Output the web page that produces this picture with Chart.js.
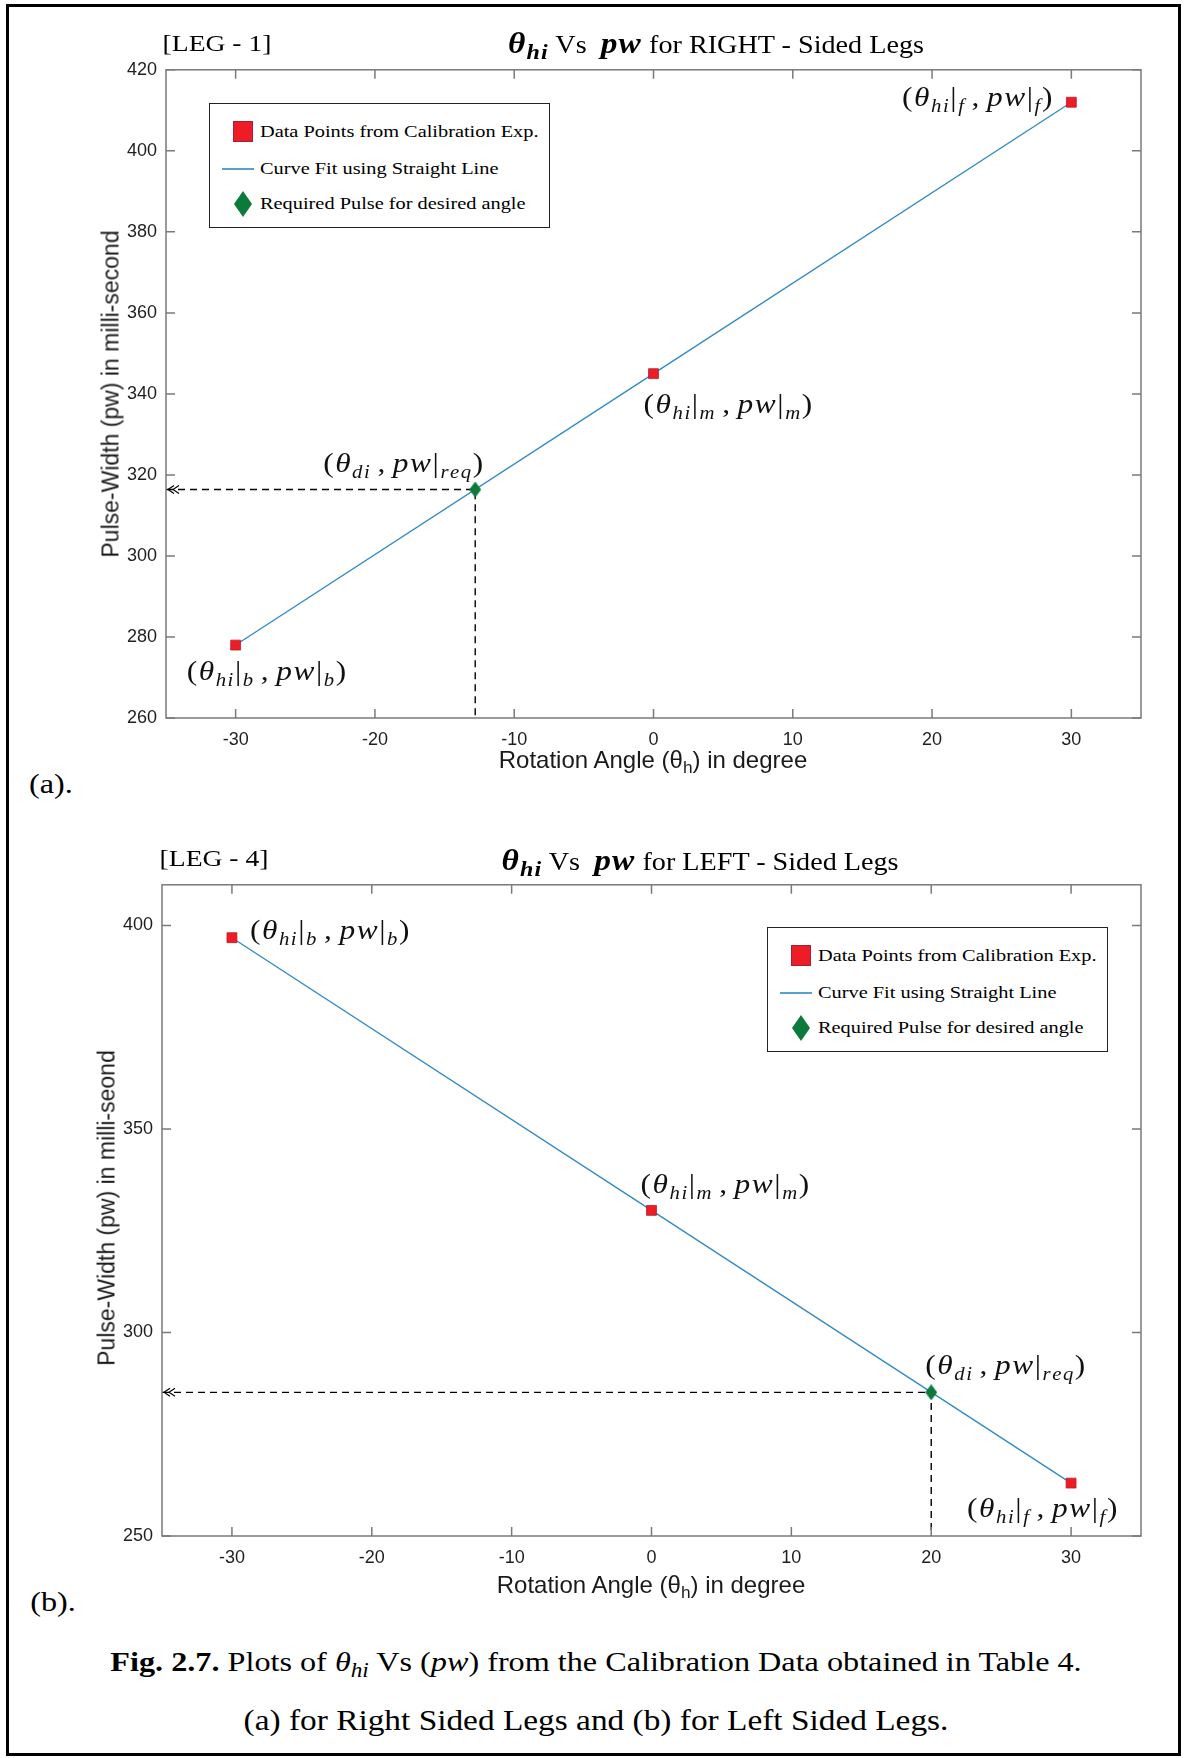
<!DOCTYPE html>
<html>
<head>
<meta charset="utf-8">
<script src="https://cdn.jsdelivr.net/npm/chart.js@4.4.0/dist/chart.umd.min.js"></script>
<style>
  body { margin:0; width:1184px; height:1758px; position:relative; background:#fff; overflow:hidden;
         font-family:"Liberation Serif","Times New Roman",serif; color:#000; }
  .frame { position:absolute; left:6px; top:4px; width:1175px; height:1752px; border:3px solid #000; box-sizing:border-box; }
  canvas { position:absolute; }
  .c { position:absolute; white-space:nowrap; line-height:1; transform:translate(-50%,-50%) scaleX(1.15); }
  .sans { font-family:"Liberation Sans",Arial,sans-serif; font-size:24px; transform:translate(-50%,-50%); color:#1a1a1a; }
  .rot { font-size:23px; transform:translate(-50%,-50%) rotate(-90deg); }
  sub { font-size:0.72em; line-height:0; vertical-align:-0.3em; }
  .m { font-weight:bold; font-style:italic; font-size:29px; letter-spacing:1px; }
  .lg { position:absolute; border:1.3px solid #222; background:#fff; box-sizing:border-box; width:341px; height:125px; }
  .lg .row { position:absolute; left:50px; font-size:17.7px; white-space:nowrap; line-height:1;
             transform-origin:left center; transform:translateY(-50%) scaleX(1.15); }
  .lg .sq { position:absolute; width:20px; height:21px; background:#ee1c25; border:1px solid #a02040; box-sizing:border-box; }
  .lg .ln { position:absolute; width:32px; height:1.5px; background:#5aa0cf; }
  .lg .dm { position:absolute; width:18px; height:26px; background:#0b7a3a; clip-path:polygon(50% 0,100% 50%,50% 100%,0 50%); }
</style>
</head>
<body>
<div class="frame"></div>
<canvas id="chartA" width="1060" height="720" style="left:100px;top:50px;"></canvas>
<canvas id="chartB" width="1064" height="723" style="left:96px;top:865px;"></canvas>

<div class="c" style="left:217px;top:43px;font-size:24px;">[LEG - 1]</div>
<div class="c" style="left:716px;top:43px;font-size:24.5px;"><span class="m">θ<sub>hi</sub></span> Vs&nbsp; <span class="m">pw</span> for RIGHT - Sided Legs</div>
<div class="c sans" style="left:653px;top:760px;">Rotation Angle (θ<sub>h</sub>) in degree</div>
<div class="c sans rot" style="left:111px;top:394px;">Pulse-Width (pw) in milli-second</div>
<div class="c" style="left:51px;top:784px;font-size:28px;">(a).</div>

<div class="c" style="left:214px;top:858px;font-size:24px;">[LEG - 4]</div>
<div class="c" style="left:700px;top:860px;font-size:24.5px;"><span class="m">θ<sub>hi</sub></span> Vs&nbsp; <span class="m">pw</span> for LEFT - Sided Legs</div>
<div class="c sans" style="left:651px;top:1585px;">Rotation Angle (θ<sub>h</sub>) in degree</div>
<div class="c sans rot" style="left:107px;top:1208px;">Pulse-Width (pw) in milli-seond</div>
<div class="c" style="left:53px;top:1602px;font-size:28px;">(b).</div>

<div class="c" style="left:596px;top:1662px;font-size:28px;"><b>Fig. 2.7.</b> Plots of <i>θ<sub>hi</sub></i> Vs (<i>pw</i>) from the Calibration Data obtained in Table 4.</div>
<div class="c" style="left:596px;top:1720px;font-size:29px;">(a) for Right Sided Legs and (b) for Left Sided Legs.</div>

<script>
// calibration data
const angles = [-30, 0, 30];
const pwRight = [278, 345, 412];
const pwLeft = [397, 330, 263];
const reqRight = [-12.8, 316.4];   // [angle, pw] of the green diamond
const reqLeft = [20, 285.3];
const xRange = [-35, 35];
const yRangeRight = [260, 420];
const yRangeLeft = [250, 410];
const xTicks = [-30, -20, -10, 0, 10, 20, 30];
const yTicksRight = [260, 280, 300, 320, 340, 360, 380, 400, 420];
const yTicksLeft = [250, 300, 350, 400];
const pointLabels = ['(θ_{hi}|_{b} , pw|_{b})', '(θ_{hi}|_{m} , pw|_{m})', '(θ_{hi}|_{f} , pw|_{f})'];
const reqLabel = '(θ_{di} , pw|_{req})';
const legendLabels = ['Data Points from Calibration Exp.', 'Curve Fit using Straight Line', 'Required Pulse for desired angle'];

const AXIS = '#7a7a7a';

function diamond(w, h, color) {
    var c = document.createElement('canvas');
    c.width = w; c.height = h;
    var g = c.getContext('2d');
    g.fillStyle = color;
    g.beginPath();
    g.moveTo(w / 2, 0); g.lineTo(w, h / 2); g.lineTo(w / 2, h); g.lineTo(0, h / 2);
    g.closePath(); g.fill();
    return c;
}

// italic math-ish text, "_{..}" = subscript
function drawMath(ctx, str, x, cy, align) {
    var segs = [], re = /_\{([^}]*)\}|([^_]+)/g, m;
    while ((m = re.exec(str))) segs.push(m[1] !== undefined ? {t: m[1], sub: true} : {t: m[2], sub: false});
    var sx = 1.12, gap = 1.4, items = [], w = 0;
    segs.forEach(function (s) {
        for (const ch of s.t) {
            ctx.font = (/[A-Za-zθ]/.test(ch) ? 'italic ' : '') + (s.sub ? 18.5 : 28) + 'px "Liberation Serif"';
            var cw = ch === ' ' ? 4 : ctx.measureText(ch).width;
            items.push({ch: ch, sub: s.sub, f: ctx.font, w: cw});
            w += cw + gap;
        }
    });
    w -= gap;
    ctx.save();
    ctx.translate(align === 'right' ? x - w * sx : x, cy + 8);
    ctx.scale(sx, 1);
    ctx.fillStyle = '#111';
    ctx.textBaseline = 'alphabetic';
    var px = 0;
    items.forEach(function (it) {
        ctx.font = it.f;
        if (it.ch !== ' ') ctx.fillText(it.ch, px, it.sub ? 6 : 0);
        px += it.w + gap;
    });
    ctx.restore();
}

const extras = {
    id: 'extras',
    afterDraw(chart) {
        var o = chart.options.plugins.extras;
        var ctx = chart.ctx, a = chart.chartArea;
        var xs = chart.scales.x, ys = chart.scales.y;
        ctx.save();
        ctx.strokeStyle = AXIS;
        ctx.lineWidth = 1.5;
        ctx.strokeRect(a.left, a.top, a.right - a.left, a.bottom - a.top);
        ctx.beginPath();
        xs.ticks.forEach(function (t) {
            var p = xs.getPixelForValue(t.value);
            ctx.moveTo(p, a.bottom); ctx.lineTo(p, a.bottom - 9);
            ctx.moveTo(p, a.top); ctx.lineTo(p, a.top + 9);
        });
        ys.ticks.forEach(function (t) {
            var p = ys.getPixelForValue(t.value);
            ctx.moveTo(a.left, p); ctx.lineTo(a.left + 9, p);
            ctx.moveTo(a.right, p); ctx.lineTo(a.right - 9, p);
        });
        ctx.stroke();
        // double arrow head at the start of the guide line
        var ry = ys.getPixelForValue(o.req[1]);
        ctx.strokeStyle = '#000';
        ctx.lineWidth = 1.2;
        ctx.beginPath();
        [2, 7].forEach(function (d) {
            ctx.moveTo(a.left + d + 6, ry - 4); ctx.lineTo(a.left + d, ry); ctx.lineTo(a.left + d + 6, ry + 4);
        });
        ctx.stroke();
        ctx.restore();
        // point annotations
        o.pw.forEach(function (v, i) {
            var px = xs.getPixelForValue(angles[i]), py = ys.getPixelForValue(v);
            var off = o.offsets[i];
            drawMath(ctx, pointLabels[i], px + off[0], py + off[1], off[2]);
        });
        var qx = xs.getPixelForValue(o.req[0]);
        drawMath(ctx, reqLabel, qx + o.reqOffset[0], ry + o.reqOffset[1], o.reqOffset[2]);
    }
};

function makeChart(id, pw, req, yRange, yTicks, offsets, reqOffset, yWidth) {
    var pts = angles.map(function (a, i) { return {x: a, y: pw[i]}; });
    var guide = [{x: xRange[0], y: req[1]}, {x: req[0], y: req[1]}, {x: req[0], y: yRange[0]}];
    return new Chart(document.getElementById(id), {
        type: 'scatter',
        data: {
            datasets: [{
                label: legendLabels[2],
                data: [{x: req[0], y: req[1]}],
                pointStyle: diamond(12, 16, '#0b7a3a'),
                pointRadius: 6
            }, {
                label: legendLabels[0],
                data: pts,
                pointStyle: 'rect',
                pointRadius: 7,
                backgroundColor: '#ee1c25',
                borderColor: '#b3202c',
                borderWidth: 0.8
            }, {
                label: legendLabels[1],
                data: pts,
                showLine: true,
                pointRadius: 0,
                borderColor: '#2e8bc4',
                borderWidth: 1.3
            }, {
                label: 'guide',
                data: guide,
                showLine: true,
                pointRadius: 0,
                borderColor: '#000',
                borderWidth: 1.4,
                borderDash: [7, 5]
            }]
        },
        options: {
            responsive: false,
            animation: false,
            devicePixelRatio: 1,
            layout: { padding: { top: 16, right: 19, left: 0, bottom: 0 } },
            scales: {
                x: {
                    type: 'linear', min: xRange[0], max: xRange[1],
                    afterBuildTicks: function (s) { s.ticks = xTicks.map(function (v) { return {value: v}; }); },
                    afterFit: function (s) { s.height = 52; },
                    grid: { display: false, drawTicks: false },
                    border: { display: false },
                    ticks: { padding: 11, color: '#1f1f1f', font: { family: 'Liberation Sans', size: 18 } }
                },
                y: {
                    type: 'linear', min: yRange[0], max: yRange[1],
                    afterBuildTicks: function (s) { s.ticks = yTicks.map(function (v) { return {value: v}; }); },
                    afterFit: function (s) { s.width = yWidth; },
                    grid: { display: false, drawTicks: false },
                    border: { display: false },
                    ticks: { padding: 9, color: '#1f1f1f', font: { family: 'Liberation Sans', size: 18 } }
                }
            },
            plugins: {
                legend: { display: false },
                tooltip: { enabled: false },
                extras: { pw: pw, req: req, offsets: offsets, reqOffset: reqOffset }
            }
        },
        plugins: [extras]
    });
}

makeChart('chartA', pwRight, reqRight, yRangeRight, yTicksRight,
    [[-49, 27, 'left'], [-10, 31, 'left'], [-19, -4, 'right']], [8, -26, 'right'], 66);
makeChart('chartB', pwLeft, reqLeft, yRangeLeft, yTicksLeft,
    [[18, -7, 'left'], [-11, -25, 'left'], [-104, 26, 'left']], [-6, -26, 'left'], 66);

// legends
function makeLegend(left, top) {
    var box = document.createElement('div');
    box.className = 'lg';
    box.style.left = left + 'px';
    box.style.top = top + 'px';
    var ys = [28, 65, 100];
    box.innerHTML =
        '<div class="sq" style="left:23px;top:' + (ys[0] - 11) + 'px"></div>' +
        '<div class="ln" style="left:12px;top:' + (ys[1] - 1) + 'px"></div>' +
        '<div class="dm" style="left:24px;top:' + (ys[2] - 13) + 'px"></div>' +
        legendLabels.map(function (t, i) { return '<div class="row" style="top:' + ys[i] + 'px">' + t + '</div>'; }).join('');
    document.body.appendChild(box);
}
makeLegend(209, 103);
makeLegend(767, 927);
</script>
</body>
</html>
